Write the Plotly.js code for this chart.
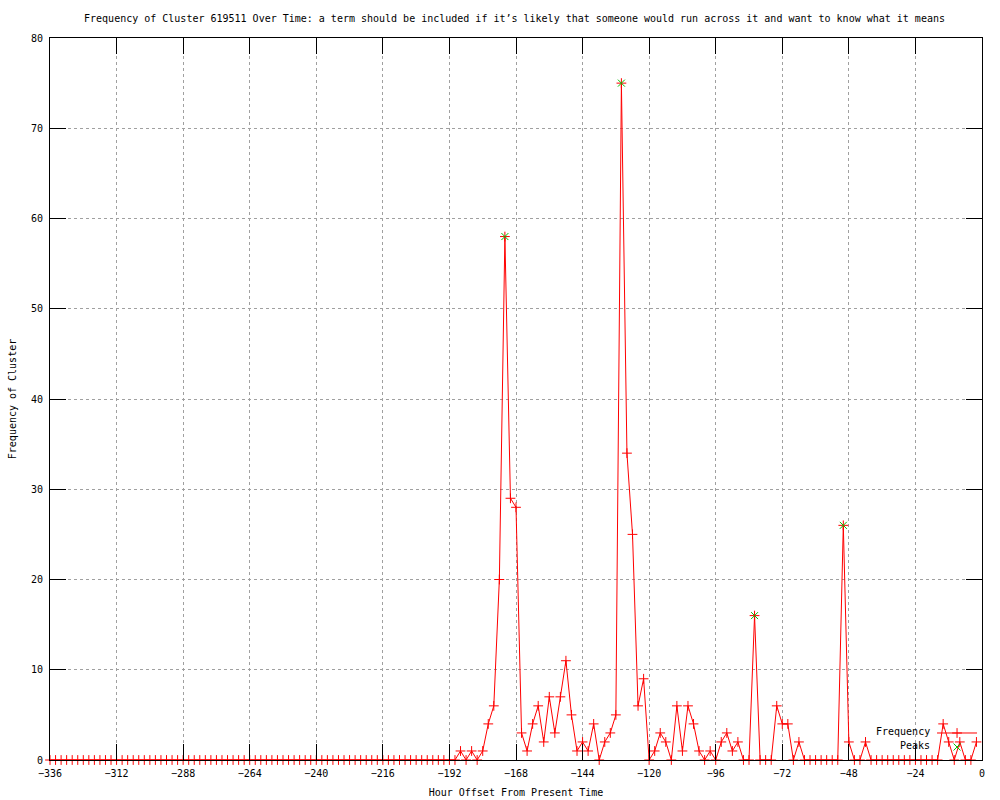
<!DOCTYPE html>
<html>
<head>
<meta charset="utf-8">
<script src="https://cdn.plot.ly/plotly-3.0.1.min.js"></script>
<style>
  html, body { margin: 0; padding: 0; background: #ffffff; }
  #chart { width: 1000px; height: 800px; }
</style>
</head>
<body>
<div id="chart"></div>
<script>
// Hour offsets (every 2 hours from -336 to -2)
const hours = [];
for (let h = -336; h <= -2; h += 2) hours.push(h);

// Frequency values, one per hour offset above
const zerosBefore = new Array(71).fill(0); // -336 .. -196
const frequencyTail = [
  0, 0, 0, 1, 0, 1, 0, 1, 4, 6,        // -194 .. -176
  20, 58, 29, 28, 3, 1, 4, 6, 2, 7,    // -174 .. -156
  3, 7, 11, 5, 1, 2, 1, 4, 0, 2,       // -154 .. -136
  3, 5, 75, 34, 25, 6, 9, 0, 1, 3,     // -134 .. -116
  2, 0, 6, 1, 6, 4, 1, 0, 1, 0,        // -114 .. -96
  2, 3, 1, 2, 0, 0, 16, 0, 0, 0,       // -94 .. -76
  6, 4, 4, 0, 2, 0, 0, 0, 0, 0,        // -74 .. -56
  0, 0, 26, 2, 0, 0, 2, 0, 0, 0,       // -54 .. -36
  0, 0, 0, 0, 0, 0, 0, 0, 0, 0,        // -34 .. -16
  4, 2, 0, 2, 0, 0, 2                  // -14 .. -2
];
const frequency = zerosBefore.concat(frequencyTail);

// Detected peaks
const peakHours = [-172, -130, -82, -50];
const peakValues = [58, 75, 16, 26];

// Axis ticks
const xTickVals = [-336, -312, -288, -264, -240, -216, -192, -168, -144, -120, -96, -72, -48, -24, 0];
const yTickVals = [0, 10, 20, 30, 40, 50, 60, 70, 80];

const FONT = 'DejaVu Sans Mono, Liberation Mono, monospace';

const traces = [
  {
    x: hours, y: frequency, type: 'scatter', mode: 'lines+markers',
    name: '', legend: 'legend',
    line: { color: '#ff0000', width: 1 },
    marker: { symbol: 'cross-thin-open', size: 7, color: '#ff0000', line: { color: '#ff0000', width: 1 } },
    cliponaxis: false
  },
  {
    x: peakHours, y: peakValues, type: 'scatter', mode: 'markers',
    name: '', legend: 'legend2',
    marker: { symbol: 'x-thin-open', size: 7, color: '#00c000', line: { color: '#00c000', width: 1 } },
    cliponaxis: false
  }
];

const axisCommon = {
  showline: true, linecolor: '#000000', linewidth: 1, mirror: 'ticks',
  ticks: 'inside', ticklen: 16, tickwidth: 1, tickcolor: '#000000',
  showgrid: true, gridcolor: '#a0a0a0', gridwidth: 1, griddash: 'dot',
  zeroline: false, ticklabelstandoff: 4,
  tickfont: { family: FONT, size: 10, color: '#000000' }
};

const layout = {
  width: 1000, height: 800,
  margin: { l: 50, r: 18, t: 38, b: 40 },
  paper_bgcolor: '#ffffff', plot_bgcolor: '#ffffff',
  font: { family: FONT, size: 10, color: '#000000' },
  title: {
    text: 'Frequency of Cluster 619511 Over Time: a term should be included if it\u2019s likely that someone would run across it and want to know what it means',
    font: { family: FONT, size: 10, color: '#000000' },
    x: 0.5145, xanchor: 'center', y: 0.9775, yanchor: 'middle'
  },
  xaxis: Object.assign({}, axisCommon, {
    range: [-336, 0], tickvals: xTickVals,
    title: { text: 'Hour Offset From Present Time', font: { family: FONT, size: 10 }, standoff: 10 }
  }),
  yaxis: Object.assign({}, axisCommon, {
    range: [0, 80], tickvals: yTickVals,
    title: { text: 'Frequency of Cluster', font: { family: FONT, size: 10 }, standoff: 12 }
  }),
  showlegend: true,
  legend: {
    x: 0.9464, xanchor: 'left', y: 0.0374, yanchor: 'middle',
    bgcolor: 'rgba(0,0,0,0)', borderwidth: 0, itemwidth: 40,
    font: { family: FONT, size: 10 }, tracegroupgap: 0
  },
  legend2: {
    x: 0.9464, xanchor: 'left', y: 0.018, yanchor: 'middle',
    bgcolor: 'rgba(0,0,0,0)', borderwidth: 0, itemwidth: 40,
    font: { family: FONT, size: 10 }, tracegroupgap: 0
  },
  annotations: [
    { text: 'Frequency', xref: 'paper', yref: 'paper', x: 0.9464, y: 0.0388, xanchor: 'right', yanchor: 'middle', showarrow: false, font: { family: FONT, size: 10, color: '#000000' } },
    { text: 'Peaks', xref: 'paper', yref: 'paper', x: 0.9464, y: 0.0194, xanchor: 'right', yanchor: 'middle', showarrow: false, font: { family: FONT, size: 10, color: '#000000' } }
  ]
};

Plotly.newPlot('chart', traces, layout, { displayModeBar: false, staticPlot: true });
</script>
</body>
</html>
